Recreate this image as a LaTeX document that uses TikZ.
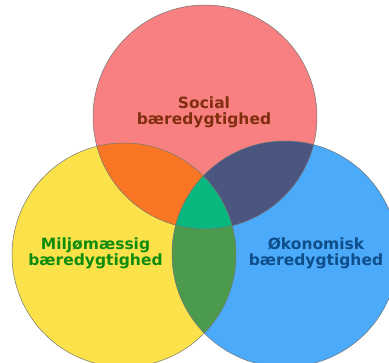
\documentclass[tikz,border=0pt]{standalone}
\usepackage{fontspec}
\setmainfont{DejaVu Sans}
\definecolor{socialred}{RGB}{249,128,128}
\definecolor{miljoyellow}{RGB}{251,226,74}
\definecolor{okoblue}{RGB}{76,170,250}
\definecolor{sociomiljo}{RGB}{249,118,36}
\definecolor{socioko}{RGB}{74,86,128}
\definecolor{miljooko}{RGB}{76,154,76}
\definecolor{allthree}{RGB}{8,184,126}
\definecolor{socialtxt}{RGB}{128,46,14}
\definecolor{miljotxt}{RGB}{14,140,14}
\definecolor{okotxt}{RGB}{14,78,138}

\begin{document}
\begin{tikzpicture}[x=1pt,y=-1pt,
    label/.style={font=\bfseries\fontsize{15.5}{16}\selectfont, align=center, inner sep=0pt},
    rim/.style={draw=black!55, line width=0.5pt}]
        \useasboundingbox (0,0) rectangle (389,363);
        \clip (0,0) rectangle (389,363);
        % centres
        \coordinate (s) at (205,117);
        \coordinate (m) at (124,255);
        \coordinate (o) at (285,254);
        % circles
        \fill[socialred] (s) circle[radius=112];
        \fill[miljoyellow] (m) circle[radius=112];
        \fill[okoblue] (o) circle[radius=113];
        % overlaps
        \begin{scope}
            \clip (s) circle[radius=112];
            \fill[sociomiljo] (m) circle[radius=112];
            \fill[socioko] (o) circle[radius=113];
        \end{scope}
        \begin{scope}
            \clip (m) circle[radius=112];
            \fill[miljooko] (o) circle[radius=113];
            \clip (s) circle[radius=112];
            \fill[allthree] (o) circle[radius=113];
        \end{scope}
        % outlines
        \draw[rim] (s) circle[radius=112];
        \draw[rim] (m) circle[radius=112];
        \draw[rim] (o) circle[radius=113];
        % labels
        \node[label, text=socialtxt] (social) at (204,112) {Social\\bæredygtighed};
        \node[label, text=miljotxt] (miljo) at (95.5,253) {Miljømæssig\\bæredygtighed};
        \node[label, text=okotxt] (oko) at (316,253) {Økonomisk\\bæredygtighed};
\end{tikzpicture}
\end{document}
